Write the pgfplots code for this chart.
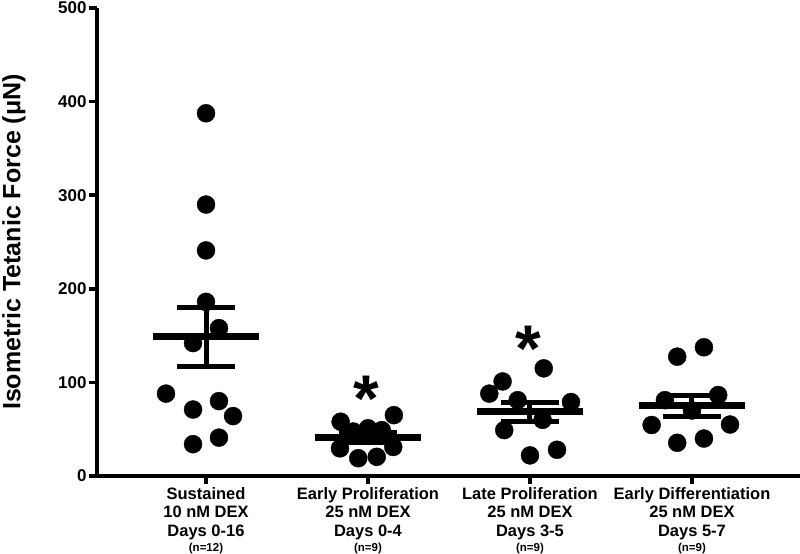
\documentclass[border=0pt]{standalone}
\usepackage{fontspec}
\setmainfont{Liberation Sans}
\usepackage{pgfplots}
\pgfplotsset{compat=1.18}

\begin{document}
\begin{tikzpicture}
\begin{axis}[
  scale only axis, width=703pt, height=468pt,
  xmin=0.327, xmax=4.667, ymin=0, ymax=500,
  axis x line=bottom, axis y line=left,
  axis line style={-, line width=4pt},
  tick align=outside, major tick length=8pt,
  major tick style={black, line width=3.5pt},
  ytick={0,100,...,500},
  xtick={1,2,3,4},
  xticklabels={
    Sustained\\10 nM DEX\\Days 0-16\\[-3pt]{\fontsize{11.5}{11.5}\selectfont (n=12)},
    Early Proliferation\\25 nM DEX\\Days 0-4\\[-3pt]{\fontsize{11.5}{11.5}\selectfont (n=9)},
    Late Proliferation\\25 nM DEX\\Days 3-5\\[-3pt]{\fontsize{11.5}{11.5}\selectfont (n=9)},
    Early Differentiation\\25 nM DEX\\Days 5-7\\[-3pt]{\fontsize{11.5}{11.5}\selectfont (n=9)}},
  yticklabel style={font=\fontsize{17}{17}\selectfont\bfseries, xshift=1pt},
  xticklabel style={align=center, font=\fontsize{16.5}{18.3}\selectfont\bfseries},
  /pgf/number format/assume math mode=true,
  clip=false,
  dots/.style={only marks, mark=*, mark size=9pt, black},
  mean/.style={black, line width=7pt},
  sem/.style={black, line width=5pt},
]
% group means and SEM
\addplot[mean] coordinates {(0.67,148.5) (1.33,148.5)};
\addplot[sem] coordinates {(1,117) (1,180)};
\addplot[sem] coordinates {(0.82,180) (1.18,180)};
\addplot[sem] coordinates {(0.82,117) (1.18,117)};

\addplot[mean] coordinates {(1.67,41) (2.33,41)};
\addplot[sem] coordinates {(2,35.5) (2,46.5)};
\addplot[sem] coordinates {(1.82,46.5) (2.18,46.5)};
\addplot[sem] coordinates {(1.82,35.5) (2.18,35.5)};

\addplot[mean] coordinates {(2.67,68.7) (3.33,68.7)};
\addplot[sem] coordinates {(3,58.4) (3,78.3)};
\addplot[sem] coordinates {(2.82,78.3) (3.18,78.3)};
\addplot[sem] coordinates {(2.82,58.4) (3.18,58.4)};

\addplot[mean] coordinates {(3.67,75.5) (4.33,75.5)};
\addplot[sem] coordinates {(4,64) (4,86)};
\addplot[sem] coordinates {(3.82,86) (4.18,86)};
\addplot[sem] coordinates {(3.82,64) (4.18,64)};

% individual constructs
\addplot[dots] coordinates {(1,387.5) (1,290) (1,241) (1,186) (1.08,158) (0.92,142)
  (0.753,88) (0.92,71) (1.08,80) (1.167,64) (0.92,34) (1.08,41)};
\addplot[dots] coordinates {(1.831,58) (2.16,65) (1.909,47.5) (2,51) (2.085,49)
  (1.827,29.5) (2.156,31) (1.94,19) (2.054,20.5)};
\addplot[dots] coordinates {(3.085,115) (2.831,101) (2.749,88) (2.924,81) (3.253,79)
  (3.078,60) (2.841,49) (3,22) (3.167,28)};
\addplot[dots] coordinates {(3.909,127.5) (4.074,137.5) (3.751,54.5) (4.235,55)
  (3.909,35.5) (4.074,40) (3.833,81) (4.162,86.5) (4,70)};

\node[font=\fontsize{66}{66}\selectfont\bfseries, anchor=base, inner sep=0pt, yshift=-36pt]
  at (axis cs:1.99,97) {*};
\node[font=\fontsize{66}{66}\selectfont\bfseries, anchor=base, inner sep=0pt, yshift=-36pt]
  at (axis cs:2.99,150.5) {*};
\end{axis}
\node[rotate=90, anchor=north, inner sep=0pt, font=\fontsize{25}{25}\selectfont\bfseries]
  at ([xshift=-95pt]current axis.west) {Isometric Tetanic Force (μN)};
\pgfresetboundingbox
\path[use as bounding box] ([xshift=-97pt,yshift=-78pt]current axis.south west)
  rectangle ([yshift=8pt]current axis.north east);
\end{tikzpicture}
\end{document}
